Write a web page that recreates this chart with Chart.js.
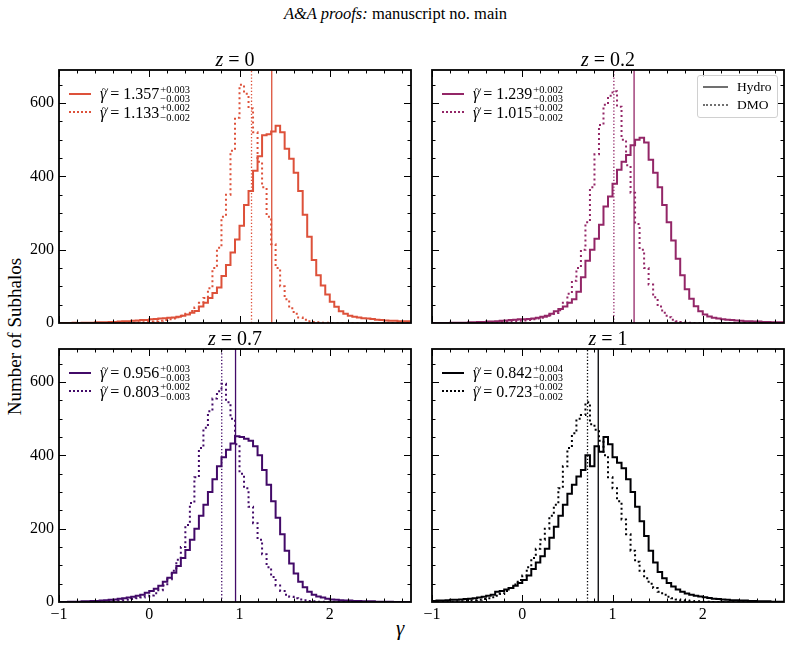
<!DOCTYPE html>
<html><head><meta charset="utf-8">
<script src="https://cdn.jsdelivr.net/npm/chart.js@4.4.1/dist/chart.umd.min.js"></script>
<style>
html,body{margin:0;padding:0;background:#fff;}
#wrap{position:relative;width:791px;height:645px;overflow:hidden;font-family:'Liberation Serif',serif;color:#000;}
canvas{position:absolute;left:0;top:0;}
.t{position:absolute;white-space:nowrap;line-height:1;}
.leg{position:absolute;display:flex;align-items:center;white-space:nowrap;font-size:16px;line-height:16px;}
.ss{display:inline-flex;flex-direction:column;font-size:10.5px;line-height:9.5px;margin-left:1px;}
.sample{position:absolute;width:22px;height:0;}
.gt{position:relative;display:inline-block;}
.gt .tl{position:absolute;left:1.5px;top:-4px;font-size:13px;font-style:normal;}
</style></head>
<body><div id="wrap">
<div class="t" id="hdr" style="left:0;width:791px;text-align:center;top:6px;font-size:16.5px;"><i>A&amp;A proofs:</i> manuscript no. main</div>
<div class="t" style="left:-76px;top:327px;width:180px;text-align:center;font-size:19px;transform:rotate(-90deg);">Number of Subhalos</div>
<div class="t" style="left:396px;top:618px;font-size:21px;"><i>γ</i></div>
</div>
<script>
// ---------------- data ----------------
const redshifts = ['0', '0.2', '0.7', '1'];
const seriesNames = ['Hydro', 'DMO'];
const xTickLabels = [-1, 0, 1, 2];
const yTickLabels = [0, 200, 400, 600];
const binStart = -1, binWidth = 0.05, nBins = 78;

const hydroMedian = [1.357, 1.239, 0.956, 0.842];
const hydroErrPlus = ['0.003', '0.002', '0.003', '0.004'];
const hydroErrMinus = ['0.003', '0.003', '0.003', '0.003'];
const dmoMedian = [1.133, 1.015, 0.803, 0.723];
const dmoErrPlus = ['0.002', '0.002', '0.002', '0.002'];
const dmoErrMinus = ['0.002', '0.002', '0.003', '0.002'];

const hydroZ0 = [
  0,0,0,1,0,1,1,1,2,2,
  2,3,3,4,5,5,6,7,8,8,
  10,11,12,13,14,15,17,20,23,28,
  33,45,55,68,82,97,128,158,192,228,
  265,322,360,415,455,512,515,522,538,520,
  475,448,410,360,295,235,172,130,102,78,
  58,44,32,25,20,17,15,13,12,11,
  9,8,7,6,6,5,5,5];
const dmoZ0 = [
  0,0,0,0,0,0,0,0,0,0,
  0,0,0,1,0,1,1,2,2,3,
  4,5,6,8,10,12,16,20,25,33,
  42,55,68,95,150,205,290,350,470,560,
  650,625,585,520,440,370,290,215,150,100,
  65,40,25,15,9,5,3,2,1,1,
  0,0,0,0,0,0,0,0,0,0,
  0,0,0,0,0,0,0,0];
const hydroZ02 = [
  0,0,0,0,1,1,1,1,2,2,
  3,3,4,4,5,6,7,8,9,10,
  10,11,12,14,17,20,25,32,38,45,
  55,65,85,125,170,200,230,268,318,345,
  380,418,440,458,485,500,505,492,445,410,
  370,322,275,225,175,130,92,66,46,32,
  23,18,14,12,10,9,8,7,6,5,
  5,4,4,3,3,2,2,2];
const dmoZ02 = [
  0,0,0,0,0,0,0,0,0,0,
  1,1,1,2,2,3,3,4,5,6,
  7,8,10,12,14,17,21,27,35,55,
  80,115,150,200,275,370,460,540,595,620,
  632,590,500,430,355,270,200,150,105,70,
  45,28,16,9,5,3,2,1,0,0,
  0,0,0,0,0,0,0,0,0,0,
  0,0,0,0,0,0,0,0];
const hydroZ07 = [
  0,0,1,1,1,2,2,3,3,4,
  5,6,7,9,10,12,14,17,20,25,
  30,36,44,55,66,80,98,120,142,170,
  200,235,265,300,335,370,395,415,432,452,
  450,445,440,425,400,360,320,275,230,185,
  140,105,78,55,40,28,20,15,12,9,
  7,6,5,4,4,3,3,2,2,2,
  1,1,1,1,0,0,0,0];
const dmoZ07 = [
  0,0,0,0,0,0,0,0,1,1,
  2,2,3,4,5,6,8,10,12,15,
  18,24,32,45,62,85,115,150,210,270,
  340,420,475,520,555,575,595,545,500,430,
  350,310,260,215,170,130,95,68,45,30,
  20,14,10,7,5,3,2,1,1,0,
  0,0,0,0,0,0,0,0,0,0,
  0,0,0,0,0,0,0,0];
const hydroZ1 = [
  3,4,4,5,6,6,7,8,9,10,
  12,14,17,20,28,30,34,38,44,52,
  60,72,90,108,125,145,175,205,235,265,
  295,320,342,360,400,370,425,410,450,430,
  395,380,365,335,300,260,220,180,140,108,
  82,65,52,42,34,28,23,20,17,15,
  13,11,9,8,7,6,5,5,4,4,
  3,3,2,2,2,1,1,1];
const dmoZ1 = [
  0,0,0,1,1,2,2,3,4,5,
  6,8,10,13,17,22,30,38,48,60,
  72,95,120,145,170,200,235,265,310,370,
  420,460,500,510,545,485,470,440,400,340,
  310,275,225,185,140,110,85,65,50,38,
  28,20,14,10,7,5,4,3,2,2,
  1,1,0,0,0,0,0,0,0,0,
  0,0,0,0,0,0,0,0];

const hydroCounts = [hydroZ0, hydroZ02, hydroZ07, hydroZ1];
const dmoCounts = [dmoZ0, dmoZ02, dmoZ07, dmoZ1];

// ---------------- styling / layout ----------------
const colors = ['#dd513a', '#932667', '#420a68', '#000004'];
const X_MIN = -1, X_MAX = 2.9, Y_MAX = 690;
const panels = [
  {l:59,  t:70,  r:411, b:323, xl:false, yl:true},
  {l:432, t:70,  r:784, b:323, xl:false, yl:false},
  {l:59,  t:349, r:411, b:602, xl:true,  yl:true},
  {l:432, t:349, r:784, b:602, xl:true,  yl:false}
];
const W = 791, H = 645, YW = 40, XH = 30;
const FONT = "'Liberation Serif', serif";

const binEdges = Array.from({length: nBins + 1}, (_, i) => +(binStart + i * binWidth).toFixed(2));
function toSteps(vals) {
  const pts = vals.map((v, i) => ({x: binEdges[i], y: v}));
  pts.push({x: binEdges[nBins], y: vals[nBins - 1]});
  return pts;
}

const xMinor = [], yMinor = [];
for (let v = X_MIN; v <= X_MAX + 1e-9; v += 0.2) xMinor.push(+v.toFixed(2));
for (let v = 0; v <= Y_MAX; v += 50) yMinor.push(v);

const framePlugin = {
  id: 'frame',
  afterDatasetsDraw(chart) {
    const {ctx, chartArea: a, scales: {x, y}} = chart;
    ctx.save();
    ctx.strokeStyle = '#000';
    ctx.lineWidth = 1;
    ctx.beginPath();
    xMinor.forEach(v => {
      const px = Math.round(x.getPixelForValue(v)) + 0.5;
      if (px < a.left || px > a.right) return;
      const len = xTickLabels.includes(Math.round(v * 100) / 100) ? 7 : 3.5;
      ctx.moveTo(px, a.bottom); ctx.lineTo(px, a.bottom - len);
      ctx.moveTo(px, a.top); ctx.lineTo(px, a.top + len);
    });
    yMinor.forEach(v => {
      const py = Math.round(y.getPixelForValue(v)) + 0.5;
      if (py < a.top || py > a.bottom) return;
      const len = yTickLabels.includes(v) ? 7 : 3.5;
      ctx.moveTo(a.left, py); ctx.lineTo(a.left + len, py);
      ctx.moveTo(a.right, py); ctx.lineTo(a.right - len, py);
    });
    ctx.stroke();
    ctx.lineWidth = 1.8;
    ctx.strokeRect(a.left, a.top, a.right - a.left, a.bottom - a.top);
    ctx.restore();
  }
};

const wrap = document.getElementById('wrap');

panels.forEach((p, k) => {
  const cv = document.createElement('canvas');
  cv.width = W; cv.height = H;
  cv.style.width = W + 'px'; cv.style.height = H + 'px';
  wrap.appendChild(cv);
  const col = colors[k];
  new Chart(cv.getContext('2d'), {
    type: 'line',
    data: {
      datasets: [
        {label: seriesNames[0], data: toSteps(hydroCounts[k]), stepped: true, borderColor: col, borderWidth: 2, pointRadius: 0, fill: false},
        {label: seriesNames[1], data: toSteps(dmoCounts[k]), stepped: true, borderColor: col, borderWidth: 2, borderDash: [2, 3], pointRadius: 0, fill: false},
        {label: 'hmed', data: [{x: hydroMedian[k], y: 0}, {x: hydroMedian[k], y: Y_MAX}], borderColor: col, borderWidth: 1.3, pointRadius: 0},
        {label: 'dmed', data: [{x: dmoMedian[k], y: 0}, {x: dmoMedian[k], y: Y_MAX}], borderColor: col, borderWidth: 1.3, borderDash: [1.3, 2], pointRadius: 0}
      ]
    },
    options: {
      responsive: false, animation: false, events: [],
      parsing: false,
      layout: {padding: {left: p.l - YW, right: W - p.r, top: p.t, bottom: H - p.b - XH}},
      plugins: {legend: {display: false}, tooltip: {enabled: false}, title: {display: false}},
      scales: {
        x: {
          type: 'linear', min: X_MIN, max: X_MAX,
          grid: {display: false, drawTicks: false},
          border: {display: false},
          ticks: {display: p.xl, stepSize: 1, includeBounds: false, padding: 3, color: '#000',
                  font: {family: FONT, size: 16}, maxRotation: 0,
                  callback: v => String(v).replace('-', '\u2212')},
          afterFit: s => { s.height = XH; }
        },
        y: {
          type: 'linear', min: 0, max: Y_MAX,
          grid: {display: false, drawTicks: false},
          border: {display: false},
          ticks: {display: p.yl, stepSize: 200, includeBounds: false, padding: 5, color: '#000',
                  font: {family: FONT, size: 16}},
          afterFit: s => { s.width = YW; }
        }
      }
    },
    plugins: [framePlugin]
  });

  // panel title
  const ti = document.createElement('div');
  ti.className = 't';
  ti.style.cssText = `left:${p.l}px;width:${p.r - p.l}px;text-align:center;top:${p.t - 21}px;font-size:20px;`;
  ti.innerHTML = `<i>z</i> = ${redshifts[k]}`;
  wrap.appendChild(ti);

  // legend rows
  const rows = [
    {dash: 'solid', med: hydroMedian[k], ep: hydroErrPlus[k], em: hydroErrMinus[k], dy: 23.5},
    {dash: 'dotted', med: dmoMedian[k], ep: dmoErrPlus[k], em: dmoErrMinus[k], dy: 42}
  ];
  rows.forEach(r => {
    const cy = p.t + r.dy;
    const s = document.createElement('div');
    s.className = 'sample';
    s.style.cssText += `left:${p.l + 10}px;top:${cy - 1}px;border-top:2px ${r.dash} ${col};`;
    wrap.appendChild(s);
    const L = document.createElement('div');
    L.className = 'leg';
    L.style.left = (p.l + 41) + 'px';
    L.style.top = (cy - 9) + 'px';
    L.innerHTML = `<span><span class="gt"><i>γ</i><span class="tl">~</span></span> = ${r.med.toFixed(3)}</span><span class="ss"><span>+${r.ep}</span><span>\u2212${r.em}</span></span>`;
    wrap.appendChild(L);
  });
});

// Hydro / DMO style legend in second panel
(function () {
  const p = panels[1];
  const box = document.createElement('div');
  box.style.cssText = `position:absolute;left:${p.r - 87}px;top:${p.t + 5}px;width:79px;height:41px;border:1px solid #d0d0d0;border-radius:3px;background:rgba(255,255,255,0.8);`;
  wrap.appendChild(box);
  seriesNames.forEach((n, i) => {
    const cy = p.t + 17 + i * 17.5;
    const s = document.createElement('div');
    s.className = 'sample';
    s.style.cssText += `left:${p.r - 81}px;top:${cy - 1}px;width:25px;border-top:2px ${i ? 'dotted' : 'solid'} #707070;`;
    wrap.appendChild(s);
    const t = document.createElement('div');
    t.className = 't';
    t.style.cssText = `left:${p.r - 47}px;top:${cy - 7}px;font-size:13.5px;`;
    t.textContent = n;
    wrap.appendChild(t);
  });
})();
</script>
</body></html>
